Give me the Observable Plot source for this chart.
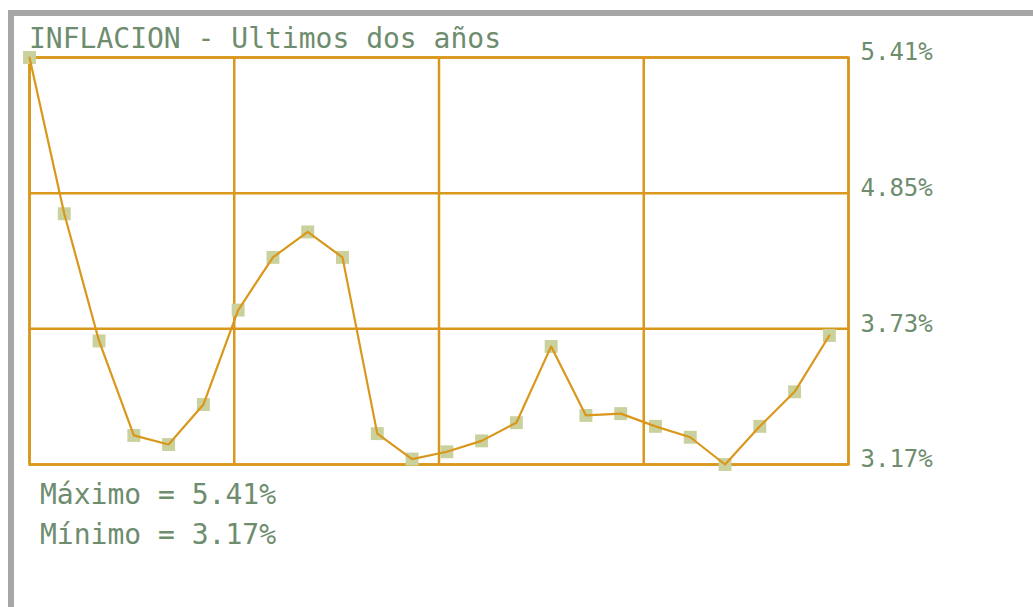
<!DOCTYPE html>
<html>
<head>
<meta charset="utf-8">
<script src="https://cdn.jsdelivr.net/npm/d3@7"></script>
<script src="https://cdn.jsdelivr.net/npm/@observablehq/plot@0.6"></script>
<style>
  html, body { margin: 0; padding: 0; background: #fff; width: 1033px; height: 607px; overflow: hidden; }
  #frame { position: absolute; left: 8px; top: 10px; width: 1040px; height: 620px;
           border-top: 6px solid #a6a6a6; border-left: 6px solid #a6a6a6; box-sizing: border-box; }
  .txt { position: absolute; font-family: "DejaVu Sans Mono", monospace; color: #6e8c6e; white-space: pre; }
  #title { left: 29px; top: 22px; font-size: 28px; line-height: 34px; }
  #maxi { left: 40px; top: 478px; font-size: 28px; line-height: 34px; }
  #mini { left: 40px; top: 518px; font-size: 28px; line-height: 34px; }
  #chart { position: absolute; left: 0; top: 0; }
</style>
</head>
<body>
<div id="frame"></div>
<div id="chart"></div>
<div class="txt" id="title">INFLACION - Ultimos dos años</div>
<div class="txt" id="maxi"></div>
<div class="txt" id="mini"></div>
<script>
// Monthly inflation, last two years (24 months), percent
const months = d3.range(24);
const inflation = [5.41, 4.55, 3.85, 3.33, 3.28, 3.50, 4.02, 4.31, 4.45, 4.31, 3.34, 3.20,
                   3.24, 3.30, 3.40, 3.82, 3.44, 3.45, 3.38, 3.32, 3.17, 3.38, 3.57, 3.88];
const yTickLabels = ["3.17%", "3.73%", "4.85%", "5.41%"];
const maxLabel = "Máximo = 5.41%";
const minLabel = "Mínimo = 3.17%";

const data = months.map((m, i) => ({m, v: inflation[i]}));
const yMin = 3.17, yMax = 5.41;
const xMax = 23.55;
const yTicks = yTickLabels.map((_, i) => yMin + (yMax - yMin) * i / (yTickLabels.length - 1));
const xTicks = d3.range(5).map(i => xMax * i / 4);

const gold = "#d9971c";
const plot = Plot.plot({
  width: 1033,
  height: 490,
  marginLeft: 29,
  marginRight: 185,
  marginTop: 57,
  marginBottom: 26,
  style: {background: "transparent"},
  x: {domain: [0, xMax], axis: null, label: null},
  y: {domain: [yMin, yMax], axis: null, label: null},
  marks: [
    Plot.gridX(xTicks, {stroke: gold, strokeOpacity: 1, strokeWidth: 2.5}),
    Plot.gridY(yTicks, {stroke: gold, strokeOpacity: 1, strokeWidth: 2.5}),
    Plot.frame({stroke: gold, strokeWidth: 2.5}),
    Plot.axisY(yTicks, {
      anchor: "right", tickSize: 0, tickPadding: 12, dy: -5, label: null,
      tickFormat: (d, i) => yTickLabels[i],
      fontSize: 24, fontFamily: "DejaVu Sans Mono, monospace", fill: "#6e8c6e", textAnchor: "start"
    }),
    Plot.dot(data, {x: "m", y: "v", symbol: "square", r: 7.3, fill: "#cbd19d", stroke: "none"}),
    Plot.line(data, {x: "m", y: "v", stroke: gold, strokeWidth: 2.2, curve: "linear"})
  ]
});
document.getElementById("chart").appendChild(plot);
document.getElementById("maxi").textContent = maxLabel;
document.getElementById("mini").textContent = minLabel;
</script>
</body>
</html>
